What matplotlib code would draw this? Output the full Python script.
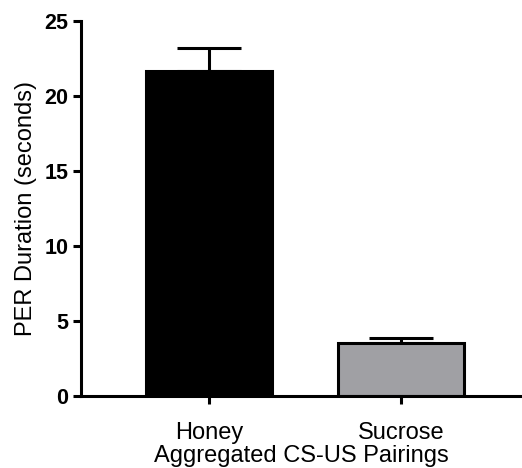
import matplotlib
matplotlib.use("Agg")
from matplotlib import pyplot as plt

groups = ["Honey", "Sucrose"]
means = [21.67, 3.53]
upper_err = [1.55, 0.34]
colors = ["#000000", "#a0a0a4"]

plt.rcParams['font.family'] = ['Liberation Sans', 'DejaVu Sans']

fig = plt.figure(figsize=(5.22, 4.68), dpi=100)
ax = fig.add_axes([0.155, 0.154, 0.843, 0.801])

x = list(range(len(groups)))
ax.bar(x, means, width=0.66, color=colors, edgecolor="black", linewidth=2.2, zorder=2)
ax.errorbar(x, means, yerr=[[0] * len(upper_err), upper_err], fmt="none",
            ecolor="black", elinewidth=2.2, capsize=22.7, capthick=2.2, zorder=1)

ax.set_xlim(-0.667, 1.625)
ax.set_ylim(0, 25)
ax.set_yticks([0, 5, 10, 15, 20, 25])
ax.set_xticks(x)
ax.set_xticklabels(groups, fontsize=17)
for lbl in ax.get_yticklabels():
    lbl.set_fontweight("bold")
    lbl.set_fontsize(15.5)

ax.set_ylabel("PER Duration (seconds)", fontsize=17, labelpad=5)
ax.set_xlabel("Aggregated CS-US Pairings", fontsize=17, labelpad=1)

for side in ["top", "right"]:
    ax.spines[side].set_visible(False)
for side in ["left", "bottom"]:
    ax.spines[side].set_linewidth(2.2)
ax.tick_params(width=2.2, length=5.8)
ax.tick_params(axis="y", pad=3.4)
ax.tick_params(axis="x", pad=13)

fig.savefig("out.png", dpi=100)
